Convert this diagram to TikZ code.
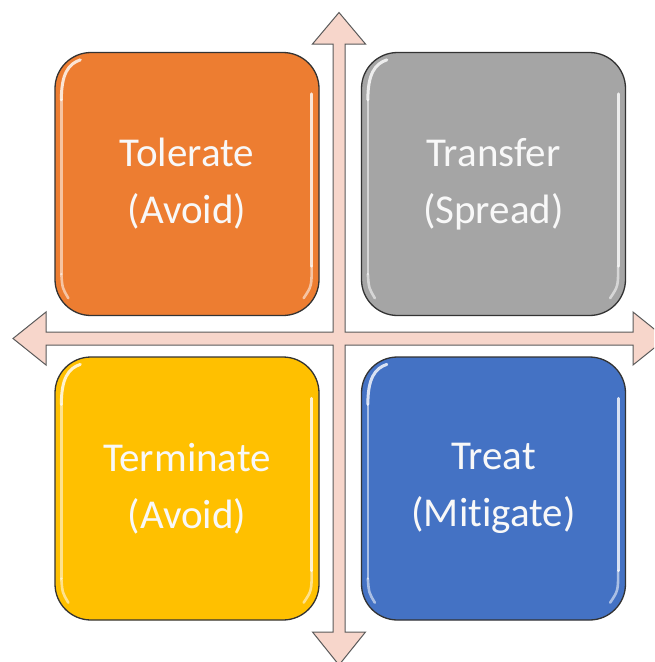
\documentclass[tikz,border=0pt]{standalone}
\usepackage{fontspec}
\setmainfont[Ligatures=NoCommon]{Carlito}
\usetikzlibrary{calc}
\definecolor{tolerateorange}{HTML}{ED7D31}
\definecolor{transfergray}{HTML}{A5A5A5}
\definecolor{terminateyellow}{HTML}{FFC000}
\definecolor{treatblue}{HTML}{4472C4}
\definecolor{axisfill}{HTML}{F7D6CB}
\definecolor{axisline}{HTML}{5A5A5A}
\definecolor{boxline}{HTML}{333333}
\definecolor{labelwhite}{HTML}{F8F8F8}
\tikzset{
  quadbox/.style={draw=boxline, line width=1.3pt, rounded corners=36pt,
    minimum width=264pt, minimum height=263pt, inner sep=0pt,
    text=labelwhite, align=center, font=\fontsize{41}{57}\selectfont},
  axes/.style={fill=axisfill, draw=axisline, line width=1pt, line join=miter},
  gloss/.style={white, line width=2.6pt, line cap=round, opacity=0.55},
  glosstip/.style={white, line width=3pt, line cap=round, opacity=0.8}
}
\begin{document}
\begin{tikzpicture}[x=1pt, y=-1pt]
  \useasboundingbox (0,0) rectangle (654,662);
  \clip (0,0) rectangle (654,662);

  % the four quadrants
  \node[quadbox, fill=tolerateorange]  (tolerate)  at (187,184)   {Tolerate\\(Avoid)};
  \node[quadbox, fill=transfergray]    (transfer)  at (493.5,184) {Transfer\\(Spread)};
  \node[quadbox, fill=terminateyellow] (terminate) at (187,488.5) {Terminate\\(Avoid)};
  \node[quadbox, fill=treatblue]       (treat)     at (493.5,488.5) {Treat\\(Mitigate)};

  % glossy highlights along the inner edges
  \foreach \n in {tolerate,transfer,terminate,treat}{
    \draw[glosstip] ($(\n.north west)+(7,48)$) .. controls ($(\n.north west)+(7,22)$) and ($(\n.north west)+(14,12)$) .. ($(\n.north west)+(26,8)$);
    \draw[gloss] ($(\n.north west)+(7,48)$) -- ($(\n.south west)+(7,-42)$);
    \draw[gloss] ($(\n.south west)+(7,-42)$) .. controls ($(\n.south west)+(8,-28)$) .. ($(\n.south west)+(14,-18)$);
    \draw[glosstip] ($(\n.north east)+(-8,42)$) -- ($(\n.south east)+(-8,-50)$);
    \draw[gloss] ($(\n.south east)+(-8,-50)$) .. controls ($(\n.south east)+(-8,-30)$) .. ($(\n.south east)+(-16,-18)$);
  }

  % the two double-headed axes, drawn as one outline
  \draw[axes]
    (339,12.5) -- (365.5,44) -- (345,44) -- (345,332) -- (633,332) -- (633,312)
    -- (666,338.5) -- (633,365) -- (633,345) -- (345,345) -- (345,632)
    -- (365.5,632) -- (339,665) -- (312.5,632) -- (333,632) -- (333,345)
    -- (46,345) -- (46,365) -- (13,338.5) -- (46,312) -- (46,332)
    -- (333,332) -- (333,44) -- (312.5,44) -- cycle;
\end{tikzpicture}
\end{document}
